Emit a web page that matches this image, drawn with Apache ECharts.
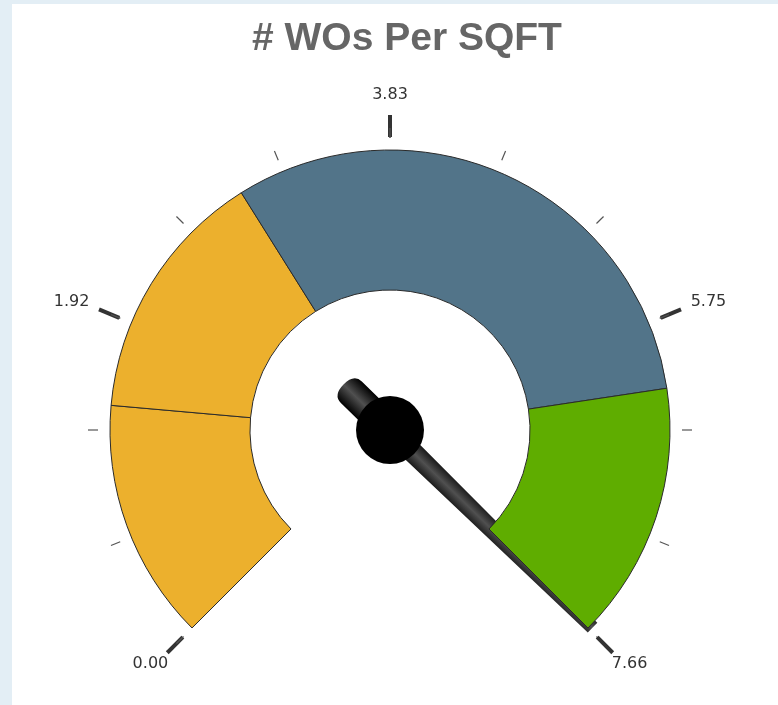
<!DOCTYPE html>
<html>
<head>
<meta charset="utf-8">
<script src="https://cdn.jsdelivr.net/npm/echarts@6/dist/echarts.min.js"></script>
<style>
  html, body { margin: 0; padding: 0; width: 778px; height: 705px; background: #e3eef5; overflow: hidden; }
  #chart { position: absolute; left: 12px; top: 4px; width: 766px; height: 701px; background: #ffffff; }
</style>
</head>
<body>
<div id="chart"></div>
<script>
// ---- data ----
var chartTitle = '# WOs Per SQFT';
var gaugeMin = 0;
var gaugeMax = 7.66;
var needleValue = 7.64;
var bandEnds = [1.42, 2.92, 6.14, 7.66];          // upper bound of each coloured band
var bandColors = ['#ECB02D', '#ECB02D', '#527489', '#5FAD00'];
var tickLabels = ['0.00', '1.92', '3.83', '5.75', '7.66'];

// ---- build ----
var bandData = bandEnds.map(function (end, i) {
  var start = i === 0 ? gaugeMin : bandEnds[i - 1];
  return { value: end - start, itemStyle: { color: bandColors[i] } };
});

var labelStyles = ['lo', 'mid', 'top', 'mid', 'lo'];

var chart = echarts.init(document.getElementById('chart'));
var center = [378, 426];

chart.setOption({
  animation: false,
  title: {
    text: chartTitle,
    left: 235,
    top: 11,
    textStyle: { fontFamily: 'Liberation Sans', fontWeight: 'bold', fontSize: 39, color: '#666666' }
  },
  series: [
    {
      type: 'pie',
      silent: true,
      center: center,
      radius: [140, 280],
      startAngle: 225,
      endAngle: -45,
      clockwise: true,
      label: { show: false },
      labelLine: { show: false },
      emphasis: { disabled: true },
      itemStyle: { borderColor: '#2a2a2a', borderWidth: 1 },
      data: bandData
    },
    {
      type: 'gauge',
      center: center,
      radius: 280,
      startAngle: 225,
      endAngle: -45,
      min: gaugeMin,
      max: gaugeMax,
      splitNumber: tickLabels.length - 1,
      axisLine: { show: false, lineStyle: { width: 0 } },
      progress: { show: false },
      splitLine: { show: true, distance: -35, length: 22, lineStyle: { color: '#333333', width: 4 } },
      axisTick: { show: true, splitNumber: 3, distance: -22, length: 10, lineStyle: { color: '#555555', width: 1.2 } },
      axisLabel: {
        show: true,
        distance: -71,
        color: '#333333',
        fontFamily: 'DejaVu Sans',
        fontSize: 16,
        formatter: function (v) {
          var idx = Math.round((v - gaugeMin) / (gaugeMax - gaugeMin) * (tickLabels.length - 1));
          return '{' + labelStyles[idx] + '|' + tickLabels[idx] + '}';
        },
        rich: {
          lo: { fontFamily: 'DejaVu Sans', fontSize: 16, color: '#333333', padding: [0, 0, 47, 0] },
          mid: { fontFamily: 'DejaVu Sans', fontSize: 16, color: '#333333', padding: [23, 0, 0, 0] },
          top: { fontFamily: 'DejaVu Sans', fontSize: 16, color: '#333333', padding: [21, 0, 0, 0] }
        }
      },
      pointer: {
        show: true,
        icon: 'path://M6,0 L16,0 L19,283 L22,292 L22,337 Q22,348 11,348 Q0,348 0,337 L0,292 L3,283 Z',
        length: 348,
        width: 30,
        offsetCenter: [0, 65],
        keepAspect: false,
        itemStyle: {
          color: {
            type: 'linear', x: 0, y: 0, x2: 1, y2: 0,
            colorStops: [
              { offset: 0, color: '#000000' },
              { offset: 0.5, color: '#505050' },
              { offset: 1, color: '#000000' }
            ]
          }
        }
      },
      anchor: { show: true, showAbove: true, size: 68, itemStyle: { color: '#000000' } },
      title: { show: false },
      detail: { show: false },
      data: [{ value: needleValue }]
    }
  ]
});
</script>
</body>
</html>
